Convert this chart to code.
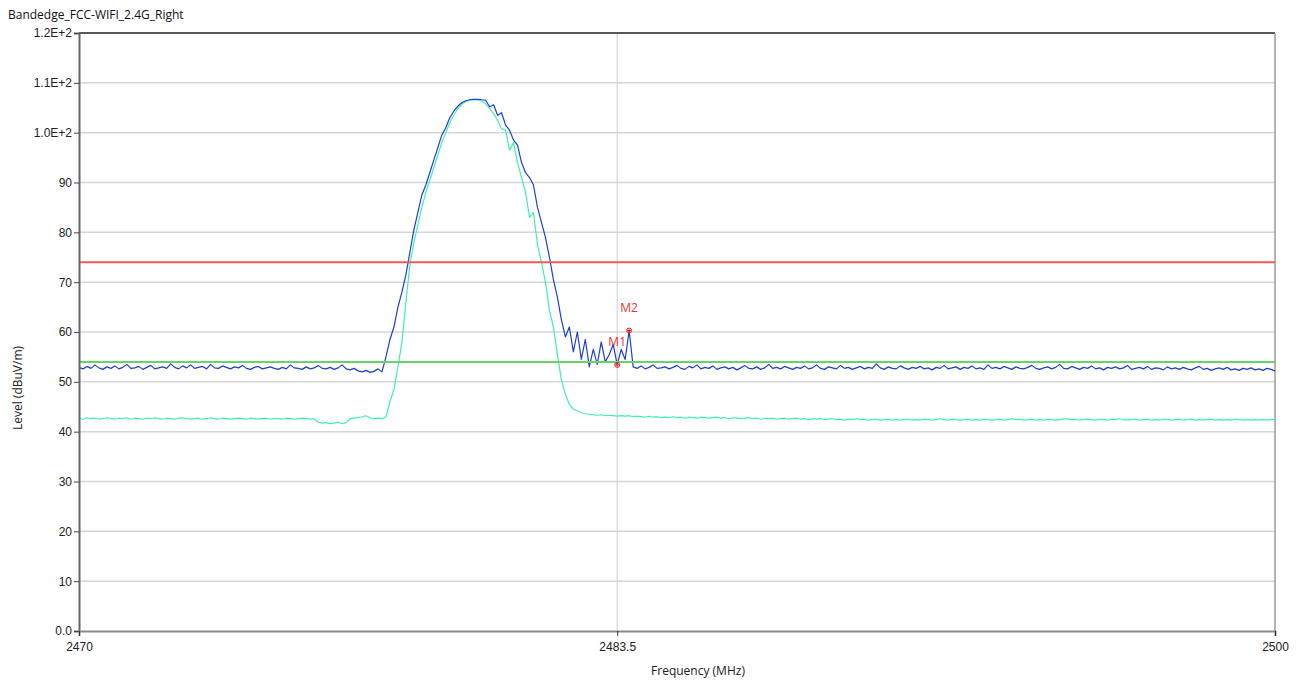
<!DOCTYPE html>
<html>
<head>
<meta charset="utf-8">
<script src="https://cdn.jsdelivr.net/npm/d3@7"></script>
<style>
  body { margin: 0; background: #fff; }
  svg { display: block; font-family: "Open Sans", "Noto Sans", sans-serif; }
  .tick text { font-size: 12px; fill: #222; }
</style>
</head>
<body>
<svg id="chart"></svg>
<script>
const title = "Bandedge_FCC-WIFI_2.4G_Right";

// sweep: 2470 MHz start, 0.1 MHz per sample
const freqStart = 2470;
const freqStep = 0.1;

const xTicks = [2470, 2483.5, 2500];
const yTicks = [0, 10, 20, 30, 40, 50, 60, 70, 80, 90, 100, 110, 120];
const yTickLabels = ["0.0", "10", "20", "30", "40", "50", "60", "70", "80", "90", "1.0E+2", "1.1E+2", "1.2E+2"];

// peak trace (dark blue)
const peakLevels = [
  52.9, 52.6, 53.1, 52.7, 53.4, 52.8, 52.5, 53.0, 52.7, 53.2,
  52.6, 52.9, 53.5, 52.7, 52.8, 53.1, 52.5, 52.9, 53.3, 52.6,
  52.8, 53.0, 52.7, 53.6, 52.9, 52.6, 53.2, 52.8, 53.4, 52.7,
  52.9, 53.1, 52.6, 53.5, 52.8, 52.7, 53.2, 52.9, 52.6, 53.0,
  52.8, 53.3, 52.7, 52.5, 52.9, 53.1, 52.6, 52.8, 53.0, 52.7,
  52.5, 52.9, 52.6, 53.4, 52.8, 52.7, 52.5, 53.0, 52.6, 52.8,
  53.3, 52.7, 52.6, 52.9, 52.5, 52.8, 53.4, 52.6, 52.4, 52.7,
  52.2, 52.0, 52.3, 51.9, 52.1, 52.6, 52.0,
  55, 58.5, 61, 65, 68, 71.5, 76, 80.5, 84, 87.5,
  89.5, 92, 94.5, 97, 99.5, 101, 103, 104.3, 105.3, 106,
  106.4, 106.6, 106.7, 106.7, 106.6, 106.5, 105.2, 105.6, 103.5, 104,
  101.5, 100.5, 98.5, 97.5, 94, 92, 91, 89.5, 85, 82,
  79, 75, 70.5, 67, 62.5, 59, 61, 56, 60, 54.5,
  58.5, 53, 56.5, 53.5, 58, 54, 55.5, 57.5, 53.4, 56.5,
  54.5, 60.3, 53, 52.7, 53.2, 52.6, 52.9, 53.4, 52.7, 52.8,
  53.0, 52.6, 52.9, 53.3, 52.7, 52.5, 53.1, 52.8, 53.4, 52.6,
  52.9, 52.7, 53.2, 52.5, 52.8, 53.0, 52.6, 52.9, 52.4, 52.8,
  53.3, 52.7, 52.6, 53.0, 52.5, 52.8, 53.5, 52.7, 52.9, 52.6,
  53.1, 52.8, 52.5, 52.9, 52.7, 53.2, 52.6, 52.8, 53.4, 52.7,
  52.5, 53.0, 52.8, 52.6, 53.3, 52.7, 52.9, 52.5, 52.8, 53.1,
  52.6, 52.9, 52.7, 53.6, 52.8, 52.5, 53.0, 52.7, 52.6, 53.2,
  52.8, 52.5, 52.9, 52.7, 53.1, 52.6, 52.8, 52.4, 52.9, 52.7,
  53.3, 52.6, 52.8, 53.0, 52.5, 52.9, 52.7, 53.2, 52.6, 52.8,
  52.5, 53.4, 52.7, 52.9, 52.6, 53.1, 52.8, 52.5, 53.0, 52.7,
  52.6, 52.9, 53.3, 52.7, 52.5, 52.8, 53.0, 52.6, 52.9, 53.5,
  52.7, 52.6, 53.1, 52.8, 52.5, 52.9, 52.7, 53.2, 52.6, 52.8,
  52.4, 52.9, 52.7, 53.0, 52.6, 52.8, 53.3, 52.5, 52.7, 52.9,
  52.6, 53.1, 52.5, 52.8, 52.7, 52.4, 53.0, 52.6, 52.8, 52.5,
  52.9, 52.6, 52.4, 52.8, 53.1, 52.5, 52.7, 52.3, 52.6, 52.8,
  52.5, 52.9, 52.4, 52.6, 52.3, 52.7, 52.5, 52.8, 52.4, 52.6,
  52.3, 52.7, 52.5, 52.2
];

// average trace (aquamarine)
const avgLevels = [
  42.7, 42.5, 42.8, 42.6, 42.7, 42.5, 42.6, 42.8, 42.6, 42.5,
  42.7, 42.6, 42.8, 42.5, 42.7, 42.6, 42.5, 42.7, 42.6, 42.8,
  42.6, 42.5, 42.7, 42.6, 42.5, 42.7, 42.8, 42.6, 42.5, 42.6,
  42.7, 42.5, 42.6, 42.8, 42.6, 42.5, 42.7, 42.6, 42.5, 42.6,
  42.7, 42.6, 42.5, 42.7, 42.6, 42.5, 42.6, 42.7, 42.5, 42.6,
  42.6, 42.5, 42.7, 42.6, 42.5, 42.6, 42.7, 42.6, 42.5, 42.6,
  41.9, 41.7, 41.8, 41.6, 41.7, 41.9, 41.6, 41.8, 42.6, 42.7,
  42.8, 43.0, 43.2, 42.8, 42.6, 42.7, 42.6,
  43, 46, 48.5, 53, 58, 66, 73.5, 78, 81.5, 85,
  88, 90.5, 93, 95.5, 98, 100, 102, 103.5, 104.8, 105.7,
  106.2, 106.5, 106.6, 106.6, 106.3, 105.8, 104.8, 103.8, 102.5, 100.8,
  100.5, 96.5, 98, 94, 91, 88, 83, 84, 77.5, 74,
  70, 64.4, 61, 55.5, 50.4, 47.5, 45.5, 44.5, 44.2, 43.8,
  43.6, 43.5, 43.4, 43.3, 43.4, 43.2, 43.3, 43.2, 43.1, 43.2,
  43.1, 43.2, 43.0, 43.1, 43.0, 42.9, 43.1, 42.9, 43.0, 42.8,
  42.9, 42.8, 43.0, 42.8, 42.9, 42.7, 42.9, 42.8, 42.7, 42.9,
  42.8, 42.7, 42.8, 42.9, 42.7, 42.8, 42.6, 42.8, 42.7, 42.6,
  42.7, 42.8, 42.6, 42.7, 42.5, 42.7, 42.6, 42.7, 42.5, 42.6,
  42.7, 42.5, 42.6, 42.7, 42.5, 42.6, 42.4, 42.6, 42.5, 42.6,
  42.4, 42.5, 42.6, 42.4, 42.5, 42.3, 42.5, 42.4, 42.6, 42.4,
  42.5, 42.3, 42.4, 42.5, 42.3, 42.4, 42.5, 42.3, 42.4, 42.3,
  42.4, 42.5, 42.3, 42.4, 42.3, 42.5, 42.4, 42.3, 42.4, 42.6,
  42.4, 42.3, 42.5, 42.4, 42.3, 42.4, 42.5, 42.3, 42.4, 42.3,
  42.5, 42.4, 42.3, 42.4, 42.5, 42.3, 42.4, 42.6, 42.4, 42.5,
  42.3, 42.4, 42.5, 42.3, 42.4, 42.3, 42.5, 42.4, 42.3, 42.4,
  42.5, 42.6, 42.4, 42.5, 42.3, 42.4, 42.5, 42.4, 42.3, 42.5,
  42.4, 42.3, 42.5, 42.4, 42.6, 42.4, 42.3, 42.4, 42.5, 42.3,
  42.4, 42.5, 42.3, 42.4, 42.3, 42.5, 42.4, 42.3, 42.4, 42.5,
  42.3, 42.4, 42.5, 42.3, 42.4, 42.3, 42.4, 42.5, 42.3, 42.4,
  42.3, 42.4, 42.3, 42.5, 42.4, 42.3, 42.4, 42.3, 42.4, 42.3,
  42.4, 42.3, 42.4, 42.5
];

const limitLevels = [74, 54];
const limitColors = ["#f25a5a", "#66d466"];

const cursorFreq = 2483.5;
const markerNames = ["M1", "M2"];
const markerFreqs = [2483.5, 2483.8];
const markerLevels = [53.4, 60.3];

const size = { width: 1304, height: 682 };
const margin = { top: 33, right: 29, bottom: 51, left: 79 };

const svg = d3
  .select("#chart")
  .attr("width", size.width)
  .attr("height", size.height);

const x = d3
  .scaleLinear()
  .domain([2470, 2500])
  .range([margin.left, size.width - margin.right]);

const y = d3
  .scaleLinear()
  .domain([0, 120])
  .range([size.height - margin.bottom, margin.top]);

// grid
yTicks.slice(1, -1).forEach((v) => {
  svg
    .append("line")
    .attr("stroke", "#d6d6d6")
    .attr("stroke-width", 1.5)
    .attr("x1", margin.left)
    .attr("x2", size.width - margin.right)
    .attr("y1", y(v))
    .attr("y2", y(v));
});

// cursor line
svg
  .append("line")
  .attr("stroke", "#cfcfcf")
  .attr("stroke-width", 1)
  .attr("x1", x(cursorFreq))
  .attr("x2", x(cursorFreq))
  .attr("y1", margin.top)
  .attr("y2", size.height - margin.bottom);

// frame
svg
  .append("line")
  .attr("stroke", "#222")
  .attr("stroke-width", 1.5)
  .attr("x1", margin.left)
  .attr("x2", size.width - margin.right)
  .attr("y1", margin.top)
  .attr("y2", margin.top);
svg
  .append("line")
  .attr("stroke", "#9a9a9a")
  .attr("stroke-width", 1.5)
  .attr("x1", size.width - margin.right)
  .attr("x2", size.width - margin.right)
  .attr("y1", margin.top)
  .attr("y2", size.height - margin.bottom);

const line = d3
  .line()
  .x((d, i) => x(freqStart + i * freqStep))
  .y((d) => y(d));

svg
  .append("path")
  .datum(avgLevels)
  .attr("fill", "none")
  .attr("stroke", "#3ff0b4")
  .attr("stroke-width", 1.2)
  .attr("stroke-linejoin", "round")
  .attr("d", line);

svg
  .append("path")
  .datum(peakLevels)
  .attr("fill", "none")
  .attr("stroke", "#1f3fcf")
  .attr("stroke-width", 1.2)
  .attr("stroke-linejoin", "round")
  .attr("d", line);

// limit lines
limitLevels.forEach((v, i) => {
  svg
    .append("line")
    .attr("stroke", limitColors[i])
    .attr("stroke-width", 2)
    .attr("x1", margin.left)
    .attr("x2", size.width - margin.right)
    .attr("y1", y(v))
    .attr("y2", y(v));
});

// axes
const yAxis = svg
  .append("g")
  .attr("transform", `translate(${margin.left}, 0)`)
  .call(
    d3
      .axisLeft(y)
      .tickValues(yTicks)
      .tickSize(5)
      .tickPadding(2)
      .tickFormat((d, i) => yTickLabels[i])
  );
yAxis.select(".domain").attr("stroke", "#666").attr("stroke-width", 2);
yAxis.selectAll(".tick line").attr("stroke", "#444");

const xAxis = svg
  .append("g")
  .attr("transform", `translate(0, ${size.height - margin.bottom})`)
  .call(
    d3
      .axisBottom(x)
      .tickValues(xTicks)
      .tickSize(5)
      .tickPadding(6)
      .tickFormat((d) => d)
  );
xAxis.select(".domain").attr("stroke", "#8a8a8a").attr("stroke-width", 2);
xAxis.selectAll(".tick line").attr("stroke", "#333");

// markers
markerNames.forEach((name, i) => {
  const cx = x(markerFreqs[i]);
  const cy = y(markerLevels[i]);
  const g = svg.append("g").attr("stroke", "#ee2222").attr("fill", "none");
  g.append("circle").attr("cx", cx).attr("cy", cy).attr("r", 2.5).attr("stroke-width", 1);
  g.append("line").attr("x1", cx - 2).attr("x2", cx + 2).attr("y1", cy).attr("y2", cy).attr("stroke-width", 1);
  g.append("line").attr("x1", cx).attr("x2", cx).attr("y1", cy - 2).attr("y2", cy + 2).attr("stroke-width", 1);
  svg
    .append("text")
    .attr("x", cx)
    .attr("y", cy - 19)
    .attr("text-anchor", "middle")
    .attr("font-size", 12)
    .attr("fill", "#f03030")
    .text(name);
});

// labels
svg
  .append("text")
  .attr("x", 8)
  .attr("y", 19)
  .attr("font-size", 12)
  .attr("fill", "#111")
  .text(title);

svg
  .append("text")
  .attr("x", 698)
  .attr("y", 675)
  .attr("text-anchor", "middle")
  .attr("font-size", 12)
  .attr("fill", "#222")
  .text("Frequency (MHz)");

svg
  .append("text")
  .attr("transform", "translate(22, 388) rotate(-90)")
  .attr("text-anchor", "middle")
  .attr("font-size", 12)
  .attr("fill", "#222")
  .text("Level (dBuV/m)");
</script>
</body>
</html>
